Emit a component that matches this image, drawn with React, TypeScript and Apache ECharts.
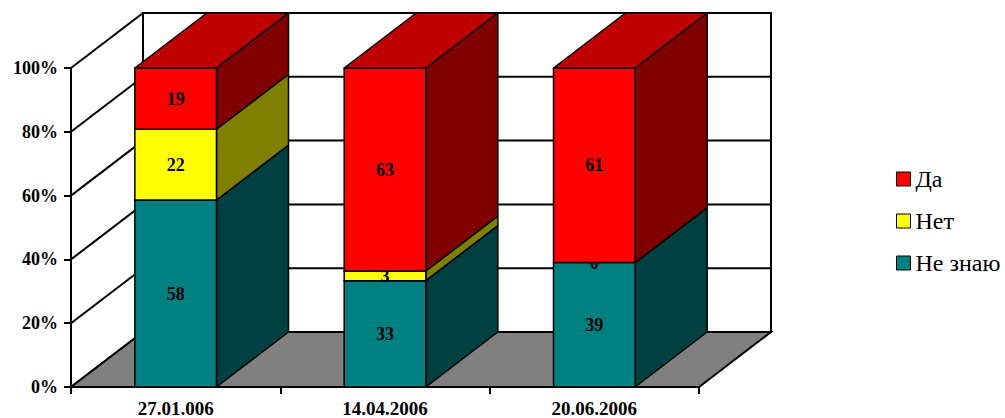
import React, { useEffect, useRef } from "react";
import * as echarts from "echarts";

const categories = ["27.01.006", "14.04.2006", "20.06.2006"];
const seriesNames = ["Не знаю", "Нет", "Да"];
const neZnayuValues = [58, 33, 39];
const netValues = [22, 3, 0];
const daValues = [19, 63, 61];
const yTicks = [0, 20, 40, 60, 80, 100];

const FRONT = ["#008080", "#FFFF00", "#FF0000"];
const TOP = ["#006060", "#C0C000", "#C00000"];
const SIDE = ["#004040", "#808000", "#800000"];
const DX = 72;
const DY = 55;
const FONT = "Times New Roman, Liberation Serif, DejaVu Serif, serif";

export default function App() {
  const ref = useRef<HTMLDivElement>(null);
  useEffect(() => {
    if (!ref.current) return;
    const chart = echarts.init(ref.current, undefined, { renderer: "svg" });
    const all = [neZnayuValues, netValues, daValues];
    const totals = categories.map((_, i) => all.reduce((s, a) => s + a[i], 0));
    const stackData = all.map((vals, si) =>
      vals.map((v, i) => {
        let base = 0;
        for (let k = 0; k < si; k++) base += all[k][i];
        const b = (base / totals[i]) * 100;
        const t = ((base + v) / totals[i]) * 100;
        return [i, b, t, v];
      })
    );

    const wallSeries: any = {
      type: "custom",
      name: "walls",
      silent: true,
      clip: false,
      z: 1,
      data: [[0]],
      renderItem: (params: any, api: any) => {
        const cs = params.coordSys;
        const x0 = cs.x;
        const x1 = cs.x + cs.width;
        const yb = api.coord([0, 0])[1];
        const yt = api.coord([0, 100])[1];
        const lineStyle = { stroke: "#000", lineWidth: 2 };
        const children: any[] = [];
        children.push({
          type: "rect",
          shape: { x: x0 + DX, y: yt - DY, width: x1 - x0, height: yb - yt },
          style: { fill: "#fff", stroke: "#000", lineWidth: 2 },
        });
        yTicks.forEach((v) => {
          const y = api.coord([0, v])[1];
          children.push({
            type: "line",
            shape: { x1: x0, y1: y, x2: x0 + DX, y2: y - DY },
            style: lineStyle,
          });
          children.push({
            type: "line",
            shape: { x1: x0 + DX, y1: y - DY, x2: x1 + DX, y2: y - DY },
            style: lineStyle,
          });
        });
        children.push({
          type: "polygon",
          shape: {
            points: [
              [x0, yb],
              [x1, yb],
              [x1 + DX, yb - DY],
              [x0 + DX, yb - DY],
            ],
          },
          style: { fill: "#808080", stroke: "#000", lineWidth: 2 },
        });
        return { type: "group", children };
      },
    };

    const barSeries = stackData.map((data, si) => ({
      type: "custom",
      name: seriesNames[si],
      clip: false,
      z: 2 + si,
      itemStyle: { color: FRONT[si] },
      encode: { x: 0, y: [1, 2] },
      data,
      renderItem: (params: any, api: any) => {
        const ci = api.value(0);
        const base = api.value(1);
        const top = api.value(2);
        const raw = api.value(3);
        const pb = api.coord([ci, base]);
        const pt = api.coord([ci, top]);
        const bw = api.size([1, 0])[0] * 0.39;
        const xl = pb[0] - bw / 2;
        const xr = pb[0] + bw / 2;
        const yb = pb[1];
        const yt = pt[1];
        const stroke = { stroke: "#000", lineWidth: 1.5, lineJoin: "round" };
        const children: any[] = [];
        if (raw > 0) {
          children.push({
            type: "polygon",
            shape: {
              points: [
                [xl, yt],
                [xr, yt],
                [xr + DX, yt - DY],
                [xl + DX, yt - DY],
              ],
            },
            style: { fill: TOP[si], ...stroke },
          });
          children.push({
            type: "polygon",
            shape: {
              points: [
                [xr, yt],
                [xr, yb],
                [xr + DX, yb - DY],
                [xr + DX, yt - DY],
              ],
            },
            style: { fill: SIDE[si], ...stroke },
          });
          children.push({
            type: "rect",
            shape: { x: xl, y: yt, width: xr - xl, height: yb - yt },
            style: { fill: FRONT[si], ...stroke },
          });
        }
        children.push({
          type: "text",
          z2: 10,
          style: {
            text: String(raw),
            x: pb[0],
            y: (yt + yb) / 2,
            align: "center",
            verticalAlign: "middle",
            fontFamily: FONT,
            fontWeight: "bold",
            fontSize: 18,
            fill: "#000",
          },
        });
        return { type: "group", children };
      },
    }));

    chart.setOption({
      animation: false,
      backgroundColor: "#fff",
      textStyle: { fontFamily: FONT },
      grid: { left: 71, right: 306, top: 68, bottom: 30, containLabel: false },
      legend: {
        data: ["Да", "Нет", "Не знаю"],
        orient: "vertical",
        left: 891,
        top: 162,
        itemWidth: 14,
        itemHeight: 14,
        itemGap: 18,
        icon: "rect",
        itemStyle: { borderColor: "#000", borderWidth: 1 },
        textStyle: { fontFamily: FONT, fontSize: 24, color: "#000" },
        selectedMode: false,
      },
      xAxis: {
        type: "category",
        data: categories,
        axisLine: { show: true, lineStyle: { color: "#000", width: 2 } },
        axisTick: { show: true, length: 7, lineStyle: { color: "#000", width: 2 } },
        axisLabel: {
          margin: 12,
          fontFamily: FONT,
          fontWeight: "bold",
          fontSize: 19,
          color: "#000",
        },
        splitLine: { show: false },
      },
      yAxis: {
        type: "value",
        min: 0,
        max: 100,
        interval: 20,
        axisLine: { show: true, lineStyle: { color: "#000", width: 2 } },
        axisTick: { show: true, length: 7, lineStyle: { color: "#000", width: 2 } },
        axisLabel: {
          formatter: "{value}%",
          margin: 13,
          fontFamily: FONT,
          fontWeight: "bold",
          fontSize: 18,
          color: "#000",
        },
        splitLine: { show: false },
      },
      series: [wallSeries, ...barSeries],
    });
    return () => chart.dispose();
  }, []);
  return (
    <div
      ref={ref}
      style={{ position: "fixed", left: 0, top: 0, width: 1005, height: 418 }}
    />
  );
}
